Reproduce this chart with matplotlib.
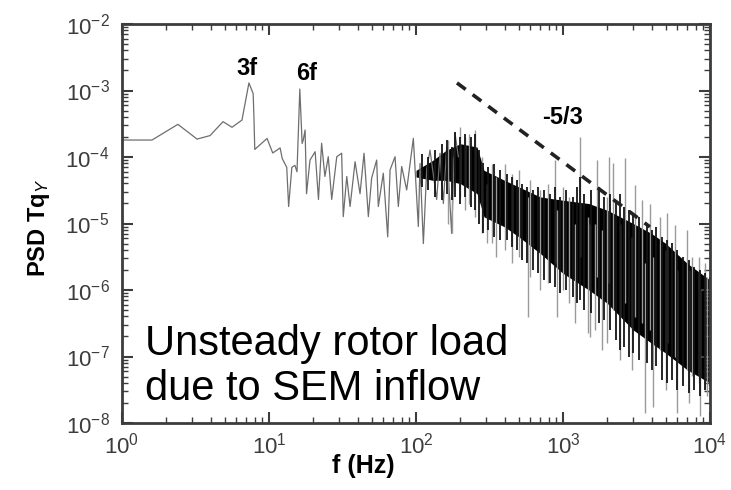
import numpy as np
import matplotlib
matplotlib.use("Agg")
import matplotlib.pyplot as plt
from matplotlib.ticker import LogLocator, NullFormatter

plt.rcParams['font.family'] = ['Liberation Sans', 'DejaVu Sans']
plt.rcParams['mathtext.fontset'] = 'custom'
plt.rcParams['mathtext.rm'] = 'Liberation Sans'
plt.rcParams['mathtext.it'] = 'Liberation Sans:italic'
plt.rcParams['mathtext.bf'] = 'Liberation Sans:bold'

# low frequency trace (Hz, PSD)
line_f = [1.0, 1.6, 2.4, 3.24, 3.97, 4.87, 5.6, 6.55, 7.3, 7.8, 7.9, 8.0, 9.7,
          10.6, 11.9, 12.3, 13.2, 13.6, 14.3, 15.0, 15.5, 16.2, 16.8, 17.1, 17.6,
          18.0, 19.0, 20.6, 21.7, 22.8, 24.0, 25.3, 26.7, 28.9, 31.2, 32.0, 33.8,
          35.6, 38.5, 41.6, 44.3, 47.4, 49.9, 54.0, 55.4, 59.9, 64.2, 66.6, 72.0,
          75.8, 79.9, 86.4, 95.9, 103.7, 106.5, 112.2, 118.2, 124.5, 138.2, 145.7,
          153.5, 161.7, 174.8, 184.2, 194.1]
line_p = [1.8e-4, 1.8e-4, 3.1e-4, 1.86e-4, 2.1e-4, 3.4e-4, 2.8e-4, 3.6e-4, 1.3e-3,
          9e-4, 3.9e-4, 1.3e-4, 1.9e-4, 1.15e-4, 1.37e-4, 9.5e-5, 7e-5, 1.8e-5,
          7e-5, 7.5e-5, 6e-5, 1.05e-3, 1.6e-4, 1.8e-4, 2.55e-4, 2.8e-5, 9.0e-5,
          1.2e-4, 2.3e-5, 1.61e-4, 5.1e-5, 1.01e-4, 2.3e-5, 1.01e-4, 1.14e-4,
          1.27e-5, 5.1e-5, 1.8e-5, 8.5e-5, 2.8e-5, 1.14e-4, 1.27e-5, 4.8e-5, 9.0e-5,
          1.8e-5, 5.7e-5, 6.3e-6, 6.4e-5, 1.01e-4, 1.8e-5, 7.2e-5, 3.2e-5, 1.91e-4,
          9.0e-6, 8.0e-5, 5.0e-6, 6.4e-5, 1.27e-4, 2.3e-5, 1.14e-4, 2.0e-5, 1.43e-4,
          7.1e-6, 2.27e-4, 1.01e-4]

# solid black core of the spectrum (log10 PSD)
band_f = [100, 130, 160, 200, 260, 290, 400, 500, 700, 1000, 1500, 2000, 3000,
          4000, 5000, 7000, 10000]
band_hi = [-4.2, -4.05, -3.9, -3.8, -3.85, -4.2, -4.35, -4.45, -4.6, -4.65,
           -4.7, -4.8, -5.0, -5.15, -5.3, -5.6, -5.85]
band_lo = [-4.3, -4.35, -4.35, -4.4, -4.55, -4.9, -5.05, -5.2, -5.45, -5.75,
           -6.0, -6.2, -6.6, -6.8, -6.95, -7.2, -7.4]

# dark strokes that roughen the edges of the core (Hz, log10 low, log10 high)
dark_f = [110, 120, 135, 150, 162, 175, 185, 200, 215, 235, 253, 270, 287, 310,
          340, 375, 415, 450, 484, 530, 570, 625, 680, 740, 810, 880, 950, 1050,
          1170, 1250, 1300, 1400, 1550, 1770, 1900, 2100, 2300, 2430, 2600, 2800,
          3000, 3300, 3725, 4000, 4300, 4700, 5100, 5500, 6000, 6500, 7230, 7800,
          8600, 9200, 10000]
dark_lo = [-4.45, -4.5, -4.6, -4.65, -4.55, -4.65, -4.6, -4.7, -4.6, -4.75, -4.8,
           -5.0, -5.14, -5.1, -5.2, -5.25, -5.25, -5.35, -5.4, -5.55, -5.6, -5.7,
           -5.75, -5.85, -5.9, -5.95, -6.05, -6.0, -6.1, -6.2, -6.15, -6.3, -6.35,
           -6.5, -6.45, -6.6, -6.75, -6.9, -6.85, -7.0, -6.95, -7.05, -7.1, -7.2,
           -7.15, -7.35, -7.4, -7.35, -7.5, -7.45, -7.55, -7.5, -7.6, -7.5, -7.45]
dark_hi = [-3.95, -4.0, -3.9, -3.8, -3.75, -3.85, -3.63, -3.7, -3.65, -3.7, -3.66,
           -3.9, -4.09, -4.15, -4.1, -4.2, -4.25, -4.3, -4.35, -4.4, -4.45, -4.5,
           -4.45, -4.5, -4.55, -4.45, -4.6, -4.5, -4.6, -4.45, -4.3, -4.55, -4.5,
           -4.45, -4.6, -4.55, -4.65, -4.55, -4.75, -4.8, -4.85, -4.9, -5.0, -5.1,
           -5.05, -5.2, -5.25, -5.3, -5.4, -5.5, -5.55, -5.65, -5.7, -5.75, -5.8]

# light grey spikes reaching out of the core (Hz, log10 low, log10 high)
spike_f = [165, 176, 200, 215, 230, 253, 280, 305, 330, 350, 400, 450, 500, 578,
           600, 700, 790, 883, 910, 1000, 1100, 1200, 1300, 1480, 1520, 1650,
           1700, 1850, 2000, 2060, 2200, 2430, 2650, 2930, 3080, 3430, 3630, 3900,
           4070, 4580, 5000, 5100, 5770, 5960, 6950, 7230, 7600, 8400, 8500, 9300,
           9500]
spike_lo = [-5.0, -5.14, -4.6, -4.8, -4.7, -4.9, -5.14, -5.3, -5.3, -5.5, -5.4,
            -5.6, -5.5, -6.4, -5.8, -6.0, -5.9, -5.6, -6.4, -6.0, -6.2, -6.5, -5.5,
            -6.65, -6.7, -6.6, -5.8, -6.9, -6.8, -5.9, -6.3, -7.05, -6.2, -7.2,
            -6.4, -6.5, -7.85, -6.6, -7.76, -6.9, -7.5, -6.8, -7.0, -7.85, -7.2,
            -7.7, -7.3, -7.4, -7.9, -7.5, -7.6]
spike_hi = [-3.75, -4.0, -3.55, -3.7, -3.65, -3.59, -4.0, -4.4, -4.1, -4.3, -4.1,
            -4.25, -4.2, -4.6, -4.35, -4.5, -4.4, -4.05, -4.8, -4.45, -4.6, -5.0,
            -3.7, -4.9, -5.0, -5.0, -4.05, -5.1, -4.6, -4.0, -4.09, -5.0, -4.02,
            -5.2, -4.42, -4.65, -5.6, -4.7, -5.5, -4.9, -5.4, -4.84, -5.02, -5.7,
            -5.1, -5.7, -5.5, -5.5, -6.0, -5.6, -5.8]

# -5/3 reference slope
slope_f = [190, 3900]
slope_p = [1.3e-3, 8.9e-6]

fig = plt.figure(figsize=(7.31, 4.9), dpi=100)
ax = fig.add_axes([0.1669, 0.1367, 0.8044, 0.8143])

ax.plot(line_f, line_p, color='#6e6e6e', lw=0.9)
ax.vlines(spike_f, 10.0 ** np.array(spike_lo), 10.0 ** np.array(spike_hi),
          color='#9a9a9a', lw=1.0)
ax.vlines(dark_f, 10.0 ** np.array(dark_lo), 10.0 ** np.array(dark_hi),
          color='#151515', lw=1.3)
ax.fill_between(band_f, 10.0 ** np.array(band_lo), 10.0 ** np.array(band_hi),
                color='black', lw=0)
ax.plot(slope_f, slope_p, color='#222222', lw=2.6, dashes=(3, 2.4))

ax.set_xscale('log')
ax.set_yscale('log')
ax.set_xlim(1, 1e4)
ax.set_ylim(1e-8, 1e-2)
ax.xaxis.set_major_locator(LogLocator(base=10, numticks=10))
ax.yaxis.set_major_locator(LogLocator(base=10, numticks=10))
ax.xaxis.set_minor_locator(LogLocator(base=10, subs=np.arange(2, 10), numticks=40))
ax.yaxis.set_minor_locator(LogLocator(base=10, subs=np.arange(2, 10), numticks=40))
ax.xaxis.set_minor_formatter(NullFormatter())
ax.yaxis.set_minor_formatter(NullFormatter())

for s in ax.spines.values():
    s.set_linewidth(2)
    s.set_color('#3c3c3c')
ax.tick_params(which='both', direction='in', top=True, right=True, colors='#3c3c3c',
               labelsize=16)
ax.tick_params(which='major', length=8, width=1.5)
ax.tick_params(which='minor', length=4, width=1)
ax.tick_params(axis='y', pad=9)
ax.tick_params(axis='x', pad=7)

fig.text(0.054, 0.535, r'PSD Tq$_{Y}$', rotation=90, ha='center', va='center',
         fontsize=17, fontweight='bold')
fig.text(0.497, 0.049, 'f (Hz)', ha='center', va='center', fontsize=18,
         fontweight='bold')

fig.text(0.3385, 0.861, '3f', ha='center', va='center', fontsize=17,
         fontweight='bold')
fig.text(0.419, 0.851, '6f', ha='center', va='center', fontsize=17,
         fontweight='bold')
fig.text(0.770, 0.761, '-5/3', ha='center', va='center', fontsize=17,
         fontweight='bold')

fig.text(0.198, 0.2755, 'Unsteady rotor load', fontsize=30, va='baseline')
fig.text(0.198, 0.1837, 'due to SEM inflow', fontsize=30, va='baseline')

fig.savefig('out.png', dpi=100)
